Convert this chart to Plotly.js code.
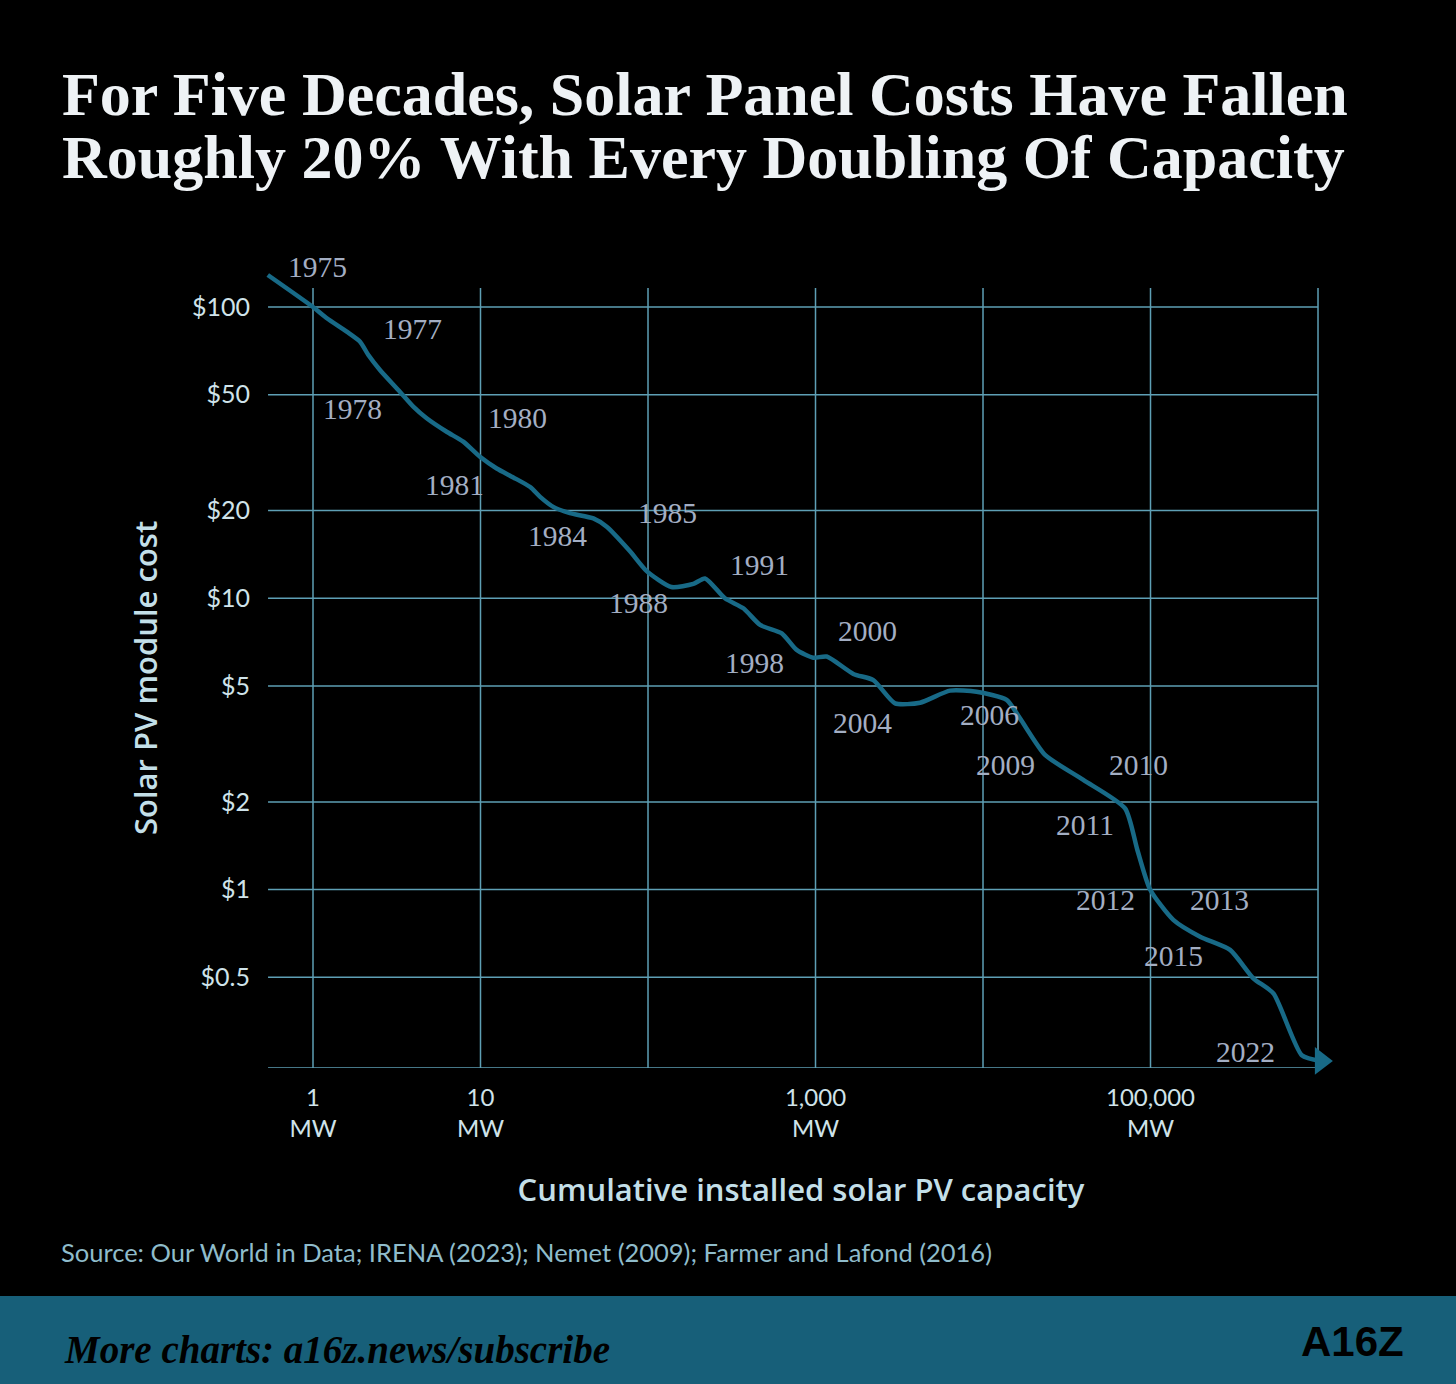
<!DOCTYPE html>
<html>
<head>
<meta charset="utf-8">
<script src="https://cdn.plot.ly/plotly-3.0.1.min.js"></script>
<style>
  html, body { margin: 0; padding: 0; background: #000; }
  #chart { width: 1456px; height: 1384px; }
</style>
</head>
<body>
<div id="chart"></div>
<script>
// Learning curve: cumulative installed capacity (MW) vs module cost ($/W)
var capacityMW = [0.537, 1.0, 1.21, 1.59, 1.91, 2.14, 2.51, 3.30, 3.97, 4.77, 6.28, 7.89, 9.93,
  12.5, 15.7, 19.8, 22.7, 27.2, 34.2, 47.2, 56.7, 78.1, 98.2, 138, 186.5, 219, 288, 371, 467,
  629, 772, 971, 1166, 1683, 2214, 2985, 4210, 6353, 9160, 13840, 16630, 23450, 39700, 70500,
  83400, 99400, 136800, 197700, 298500, 411000, 542000, 800000, 1040000];
var costUSD = [128.8, 100, 91.5, 82.3, 76.0, 68.4, 60.8, 51.2, 45.5, 41.5, 37.3, 34.5, 30.6,
  27.9, 26.0, 24.1, 22.3, 20.6, 19.6, 18.8, 17.6, 14.5, 12.4, 10.93, 11.2, 11.7, 10.0, 9.24, 8.10,
  7.58, 6.65, 6.25, 6.31, 5.50, 5.24, 4.36, 4.38, 4.82, 4.78, 4.48, 3.87, 2.90, 2.38, 1.90,
  1.37, 1.0, 0.787, 0.689, 0.621, 0.496, 0.440, 0.270, 0.258];

// year labels and where they sit (data units)
var yearLabels = ['1975', '1977', '1978', '1980', '1981', '1984', '1985', '1988', '1991', '1998',
  '2000', '2004', '2006', '2009', '2010', '2011', '2012', '2013', '2015', '2022'];
var yearLabelMW = [1.071, 3.95, 1.73, 16.7, 6.95, 29.0, 131.6, 87.2, 466, 435,
  2057, 1897, 10860, 13530, 84200, 40600, 54200, 256500, 138000, 371500];
var yearLabelCost = [137.2, 84.0, 44.6, 41.6, 24.5, 16.4, 19.6, 9.63, 13.0, 6.00,
  7.72, 3.73, 3.97, 2.68, 2.68, 1.67, 0.921, 0.921, 0.592, 0.277];

var gridMW = [1, 10, 100, 1000, 10000, 100000, 1000000];
var gridCost = [100, 50, 20, 10, 5, 2, 1, 0.5];
var xTickVals = [1, 10, 1000, 100000];
var xTickText = ['1<br>MW', '10<br>MW', '1,000<br>MW', '100,000<br>MW'];
var yTickText = ['$100', '$50', '$20', '$10', '$5', '$2', '$1', '$0.5'];

// page geometry (px)
var W = 1456, H = 1384, L = 262, R = 1340, T = 262, B = 1068;
function pxX(px) { return (px - L) / (R - L); }
function pxY(py) { return (B - py) / (B - T); }

var xRange = [-0.3045, 6.1313];
var yRange = [-0.6125, 2.1545];
var gridLeft = 0.539, gridTop = 116.2, gridBottom = Math.pow(10, yRange[0]);
var gridColor = '#5e9fb5';
var lineColor = '#186a87';

var shapes = [];
gridMW.forEach(function (v) {
  shapes.push({type: 'line', xref: 'x', yref: 'y', x0: v, x1: v, y0: gridBottom, y1: gridTop,
    line: {color: gridColor, width: 1.5}, layer: 'below'});
});
gridCost.concat([gridBottom]).forEach(function (v) {
  shapes.push({type: 'line', xref: 'x', yref: 'y', x0: gridLeft, x1: gridMW[gridMW.length - 1],
    y0: v, y1: v, line: {color: gridColor, width: 1.5}, layer: 'below'});
});
// footer band
shapes.push({type: 'rect', xref: 'paper', yref: 'paper', x0: pxX(0), x1: pxX(W),
  y0: pxY(1296), y1: pxY(H), fillcolor: '#175f79', line: {width: 0}, layer: 'below'});

var annotations = [];
for (var i = 0; i < yearLabels.length; i++) {
  annotations.push({
    text: yearLabels[i], x: Math.log10(yearLabelMW[i]), y: Math.log10(yearLabelCost[i]),
    xref: 'x', yref: 'y', showarrow: false, xanchor: 'center', yanchor: 'middle',
    font: {family: 'Liberation Serif', size: 29.5, color: '#a3aec3'}
  });
}
// two title lines set tighter than Plotly's own line spacing
var titleFont = {family: 'Liberation Serif', size: 62, color: '#eef2f5', weight: 'bold'};
annotations.push({text: 'For Five Decades, Solar Panel Costs Have Fallen', xref: 'paper', yref: 'paper',
  x: pxX(60), y: pxY(92.5), xanchor: 'left', yanchor: 'middle', height: 65, valign: 'top',
  showarrow: false, font: titleFont});
annotations.push({text: 'Roughly 20% With Every Doubling Of Capacity', xref: 'paper', yref: 'paper',
  x: pxX(60), y: pxY(158.5), xanchor: 'left', yanchor: 'middle', height: 65, valign: 'bottom',
  showarrow: false, font: titleFont});
annotations.push({text: 'Solar PV module cost', xref: 'paper', yref: 'paper', textangle: -90,
  x: pxX(145), y: pxY(678), xanchor: 'center', yanchor: 'middle', showarrow: false,
  font: {family: 'Open Sans', size: 31, color: '#c3dfe8', weight: 600}});
annotations.push({text: 'Source: Our World in Data; IRENA (2023); Nemet (2009); Farmer and Lafond (2016)',
  xref: 'paper', yref: 'paper', x: pxX(59), y: pxY(1252), xanchor: 'left', yanchor: 'middle',
  showarrow: false, font: {family: 'Lato', size: 25.5, color: '#8fbccb'}});
annotations.push({text: '<i><b>More charts: a16z.news/subscribe</b></i>',
  xref: 'paper', yref: 'paper', x: pxX(62), y: pxY(1349), xanchor: 'left', yanchor: 'middle',
  showarrow: false, font: {family: 'Liberation Serif', size: 39, color: '#000000'}});
annotations.push({text: '<b>A16Z</b>',
  xref: 'paper', yref: 'paper', x: pxX(1352), y: pxY(1341), xanchor: 'center', yanchor: 'middle',
  showarrow: false, font: {family: 'Liberation Sans', size: 42, color: '#000000'}});

var curve = {
  x: capacityMW, y: costUSD, type: 'scatter', mode: 'lines',
  line: {color: lineColor, width: 4.5, shape: 'spline', smoothing: 0.6},
  hoverinfo: 'skip', showlegend: false
};
var arrowHead = {
  x: [capacityMW[capacityMW.length - 1]], y: [costUSD[costUSD.length - 1]],
  type: 'scatter', mode: 'markers', cliponaxis: false,
  marker: {symbol: 'triangle-right', size: 24, color: lineColor},
  hoverinfo: 'skip', showlegend: false
};

var tickFont = {family: 'Lato', size: 24, color: '#cfe3ea'};

var layout = {
  width: W, height: H,
  margin: {l: L, r: W - R, t: T, b: H - B, pad: 0},
  paper_bgcolor: '#000000', plot_bgcolor: '#000000',
  showlegend: false,
  xaxis: {
    type: 'log', range: xRange, showgrid: false, zeroline: false, showline: false,
    tickvals: xTickVals, ticktext: xTickText, ticks: 'outside', ticklen: 8,
    tickcolor: 'rgba(0,0,0,0)', tickfont: tickFont,
    title: {text: 'Cumulative installed solar PV capacity',
      font: {family: 'Open Sans', size: 31, color: '#c3dfe8', weight: 600}, standoff: 38}
  },
  yaxis: {
    type: 'log', range: yRange, showgrid: false, zeroline: false, showline: false,
    tickvals: gridCost, ticktext: yTickText, ticks: 'outside', ticklen: 6,
    tickcolor: 'rgba(0,0,0,0)', tickfont: {family: 'Lato', size: 25, color: '#cfe3ea'}
  },
  shapes: shapes,
  annotations: annotations
};

Plotly.newPlot('chart', [curve, arrowHead], layout, {displayModeBar: false, staticPlot: true});
</script>
</body>
</html>
